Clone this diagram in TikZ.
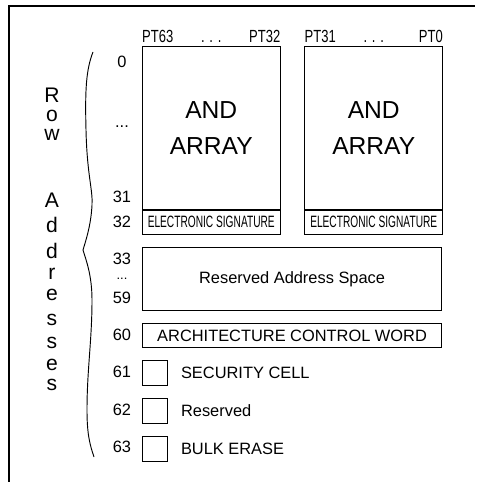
\documentclass[tikz,border=0pt]{standalone}
\usepackage{fontspec}
\setmainfont{Liberation Sans}
\newfontfamily\condfont[FakeStretch=0.62]{Liberation Sans}
\newfontfamily\semicondfont[FakeStretch=0.74]{Liberation Sans}
\usepackage{tikz}
\usetikzlibrary{positioning}

\begin{document}
\begin{tikzpicture}[
  x=0.03cm, y=-0.03cm,
  frame/.style={line width=1pt},
  cellbox/.style={draw, line width=0.7pt, inner sep=0pt},
  arraybox/.style={cellbox, minimum width=4.13cm, minimum height=4.89cm, align=center, font=\fontsize{21}{31}\selectfont},
  sigbox/.style={cellbox, minimum width=4.13cm, minimum height=0.72cm, font=\condfont\fontsize{14}{16}\selectfont},
  widebox/.style={cellbox, minimum width=8.98cm, font=\fontsize{14}{16}\selectfont},
  bitbox/.style={cellbox, minimum width=0.75cm, minimum height=0.75cm},
  num/.style={inner sep=0pt, font=\fontsize{14}{16}\selectfont},
  ptlabel/.style={inner sep=0pt, font=\semicondfont\fontsize{15}{17}\selectfont},
  bitlabel/.style={inner sep=0pt, font=\fontsize{14}{16}\selectfont},
  rowletter/.style={inner sep=0pt, anchor=base, font=\fontsize{18}{20}\selectfont},
  rowbrace/.style={line width=0.8pt}
]
\useasboundingbox (0,0) rectangle (476,482);
\draw[frame] (9,482) -- (9,6) -- (475,6);

% the two AND arrays
\node[arraybox, anchor=north west] (andL) at (142,46) {AND\\ARRAY};
\node[arraybox, right=0.72cm of andL] (andR) {AND\\ARRAY};
\node[sigbox, below=0pt of andL] (sigL) {ELECTRONIC SIGNATURE};
\node[sigbox, below=0pt of andR] (sigR) {ELECTRONIC SIGNATURE};

\node[ptlabel, above right=3pt and 0pt of andL.north west] (pt63) {PT63};
\node[ptlabel, above=3pt of andL.north] (dotsL) {. . .};
\node[ptlabel, above left=3pt and 0pt of andL.north east] (pt32) {PT32};
\node[ptlabel, above right=3pt and 0pt of andR.north west] (pt31) {PT31};
\node[ptlabel, above=3pt of andR.north] (dotsR) {. . .};
\node[ptlabel, above left=3pt and 0pt of andR.north east] (pt0) {PT0};

% rows below the arrays
\node[widebox, minimum height=1.89cm, anchor=north west] (resv) at (142,247) {Reserved Address Space};
\node[widebox, minimum height=0.72cm, anchor=north west] (acw) at (142,323) {ARCHITECTURE CONTROL WORD};

\node[bitbox, anchor=north west] (sec) at (142,360) {};
\node[bitbox, below=0.36cm of sec] (rsv) {};
\node[bitbox, below=0.36cm of rsv] (bulk) {};
\node[bitlabel, right=0.39cm of sec] (secL) {SECURITY CELL};
\node[bitlabel, right=0.39cm of rsv] (rsvL) {Reserved};
\node[bitlabel, right=0.39cm of bulk] (bulkL) {BULK ERASE};

% row numbers
\node[num] (r0) at (122,62) {0};
\node[num] (rdotsA) at (122,127) {...};
\node[num] (r31) at (122,197) {31};
\node[num] (r32) at (122,222) {32};
\node[num] (r33) at (122,259) {33};
\node[num, font=\fontsize{11}{12}\selectfont] (rdotsB) at (122,279) {...};
\node[num] (r59) at (122,298) {59};
\node[num] (r60) at (122,335) {60};
\node[num] (r61) at (122,372) {61};
\node[num] (r62) at (122,410) {62};
\node[num] (r63) at (122,447) {63};

% Row Addresses
\foreach \ch/\y in {R/102, o/121, w/140, A/207, d/232, d/258, r/279, e/300, s/325, s/348, e/370, s/390}
  \node[rowletter] (ch\y) at (52,\y) {\ch};
\draw[rowbrace] (93,52) .. controls (86,70) and (85,90) .. (86,130)
  .. controls (87,175) and (93,190) .. (92,205)
  .. controls (91,225) and (86,240) .. (83,250)
  .. controls (86,260) and (92,275) .. (92,300)
  .. controls (92,340) and (87,370) .. (87,410)
  .. controls (87,435) and (90,445) .. (94,457);
\end{tikzpicture}
\end{document}
